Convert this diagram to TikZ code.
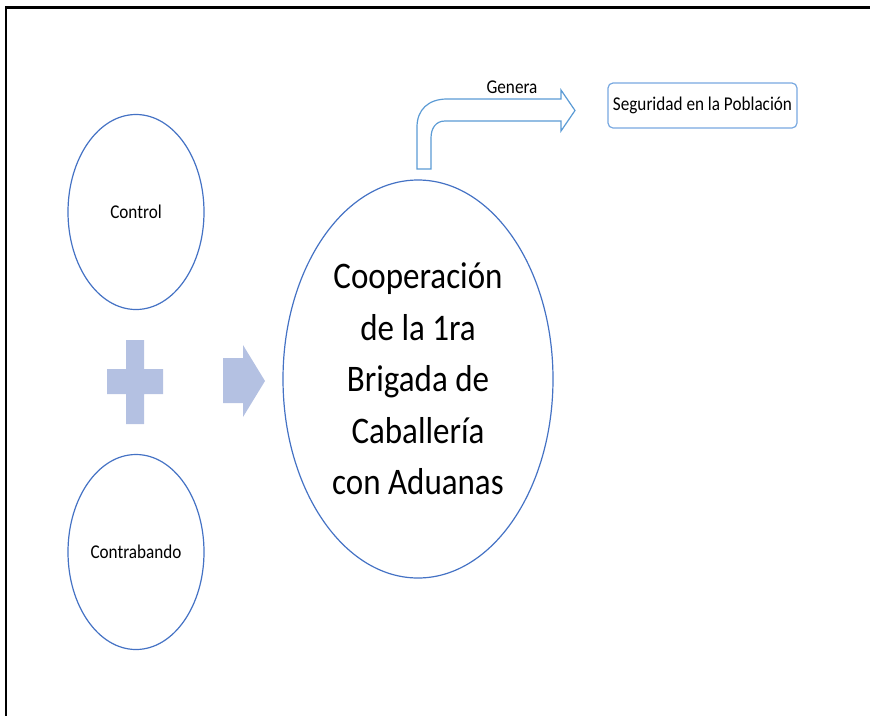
\documentclass[tikz,border=0pt]{standalone}
\usepackage{fontspec}
\setmainfont{Carlito}[FakeStretch=0.88]
\usetikzlibrary{shapes.geometric}
\definecolor{ringblue}{RGB}{68,114,196}
\definecolor{lineblue}{RGB}{91,155,213}
\definecolor{boxblue}{RGB}{120,168,224}
\definecolor{softfill}{RGB}{180,193,226}
\tikzset{
  ring/.style={draw=ringblue, line width=1.2pt, ellipse, inner sep=0pt},
  smalltxt/.style={font=\fontsize{19.5}{23}\selectfont, text=black},
  bigtxt/.style={font=\fontsize{37.5}{51.5}\selectfont, text=black, align=center},
  softshape/.style={fill=softfill, draw=none},
}
\begin{document}
\begin{tikzpicture}[x=1pt,y=-1pt]
\useasboundingbox (0,0) rectangle (870,716);
% frame
\draw[line width=3pt] (870,7.5) -- (5.5,7.5);
\draw[line width=2pt] (5.5,6) -- (5.5,716);
% circles
\node[ring, smalltxt, minimum width=136pt, minimum height=195pt] (control) at (136,212) {Control};
\node[ring, smalltxt, minimum width=136pt, minimum height=195pt] (contra) at (136,552) {Contrabando};
\node[ring, minimum width=270pt, minimum height=398pt] (coop) at (418,379) {};
\node[bigtxt] (cooptxt) at (418,379) {Cooperación\\de la 1ra\\Brigada de\\Caballería\\con Aduanas};
% plus sign
\path[softshape] (126,340) -- (144,340) -- (144,369) -- (163,369) -- (163,394) -- (144,394)
  -- (144,424) -- (126,424) -- (126,394) -- (107,394) -- (107,369) -- (126,369) -- cycle;
% block arrow
\path[softshape] (223,358) -- (243,358) -- (243,345) -- (265,381) -- (243,417) -- (243,403) -- (223,403) -- cycle;
% bent arrow
\draw[draw=lineblue, line width=1.2pt, fill=white, line join=miter]
  (417,169) -- (417,127) .. controls (417,110) and (428,99) .. (447,99) -- (561,99) -- (561,90)
  -- (575,110.5) -- (561,131) -- (561,121) -- (445,121) .. controls (436,121) and (431,128) .. (431,138)
  -- (431,169) -- cycle;
\node[smalltxt] (genera) at (512,87) {Genera};
% target box
\node[draw=boxblue, line width=1.2pt, rounded corners=5pt, minimum width=189pt, minimum height=45pt,
      inner sep=0pt, smalltxt] (seg) at (702.5,105.5) {Seguridad en la Población};
\end{tikzpicture}
\end{document}
